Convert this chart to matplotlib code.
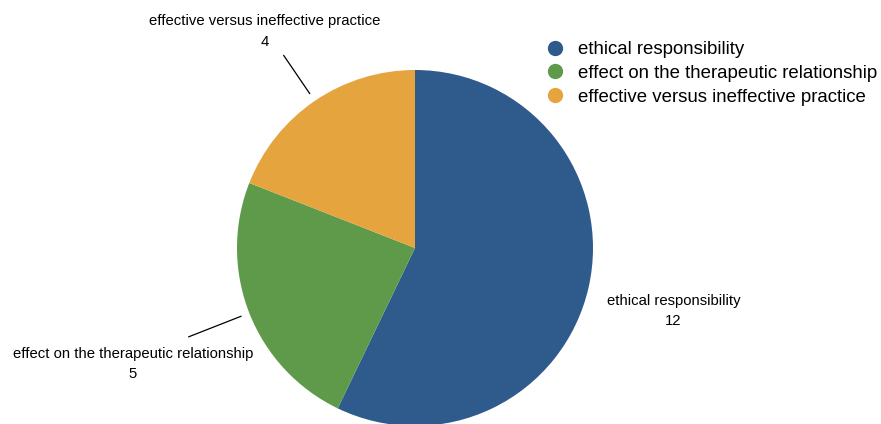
import numpy as np
import matplotlib.pyplot as plt
from matplotlib.lines import Line2D

plt.rcParams['font.family'] = ['Liberation Sans', 'DejaVu Sans']

categories = ['ethical responsibility', 'effect on the therapeutic relationship',
              'effective versus ineffective practice']
counts = [12, 5, 4]
colors = ['#2e5a8c', '#5e9a4a', '#e6a43e']

W, H = 881, 424
fig = plt.figure(figsize=(W / 100, H / 100), dpi=100)
ax = fig.add_axes([0, 0, 1, 1])

cx, cy, r = 415, H - 248, 178
wedges, _ = ax.pie(counts, colors=colors, startangle=90, counterclock=False,
                   center=(cx, cy), radius=r, frame=True)
ax.set_xlim(0, W)
ax.set_ylim(0, H)
ax.set_aspect('equal')
ax.axis('off')

# label each slice along its mid angle; small slices get a leader line
label_r = {0: 265, 1: 245, 2: 235}
for i, w in enumerate(wedges):
    ang = np.deg2rad((w.theta1 + w.theta2) / 2)
    ca, sa = np.cos(ang), np.sin(ang)
    if i == 0:
        tx, ty = cx + label_r[i] * ca, cy + label_r[i] * sa - 4
    else:
        x0, y0 = cx + 187 * ca, cy + 187 * sa
        x1, y1 = cx + (label_r[i] - 2) * ca, cy + (label_r[i] - 2) * sa
        ax.plot([x0, x1], [y0, y1], color='black', lw=0.9)
        if i == 1:
            tx, ty = x1 - 56, y1 - 27.5
        else:
            tx, ty = x1 - 19, y1 + 24
    ax.text(tx, ty, f'{categories[i]}\n{counts[i]}', ha='center', va='center',
            fontsize=10.7, linespacing=1.55)

handles = [Line2D([], [], marker='o', linestyle='None', markersize=10,
                  markerfacecolor=c, markeredgecolor=c) for c in colors]
fig.legend(handles, categories, loc='upper left', bbox_to_anchor=(546 / W, 1 - 41 / H),
           frameon=False, fontsize=13.4, handletextpad=0.74, labelspacing=0.37,
           borderpad=0, handlelength=1.0, borderaxespad=0)

fig.savefig('out.png', dpi=100)
